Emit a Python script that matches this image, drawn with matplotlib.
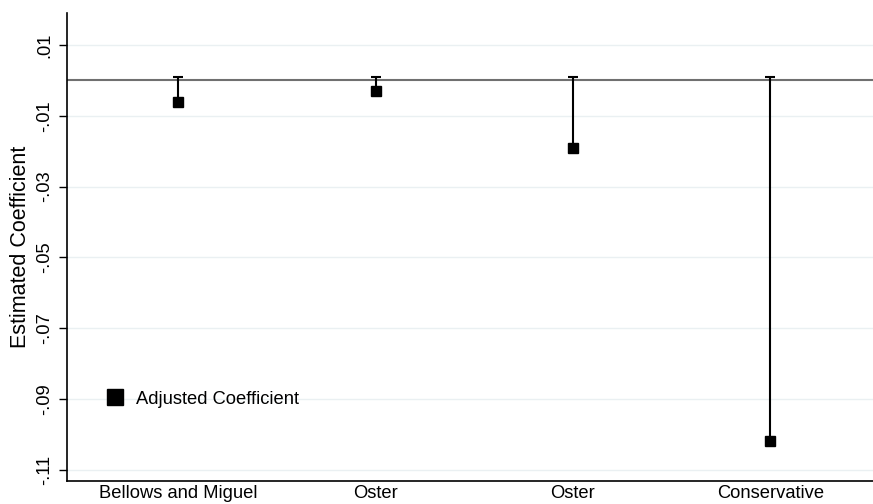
import matplotlib
matplotlib.use("Agg")
import matplotlib.pyplot as plt
from matplotlib.lines import Line2D

plt.rcParams['font.family'] = ['Liberation Sans', 'DejaVu Sans']

categories = ["Bellows and Miguel", "Oster", "Oster", "Conservative"]
coef = [-0.006, -0.003, -0.019, -0.1017]
upper = [0.001, 0.001, 0.001, 0.001]
yticks = [0.01, -0.01, -0.03, -0.05, -0.07, -0.09, -0.11]
ytick_labels = [".01", "-.01", "-.03", "-.05", "-.07", "-.09", "-.11"]

fig = plt.figure(figsize=(8.73, 5.04), dpi=100)
ax = fig.add_axes([67/873, 1 - 481/504, 1 - 67/873, (481 - 13)/504])

x = list(range(1, len(categories) + 1))
ax.set_xlim(0.437, 4.52)
ax.set_ylim(-0.1131, 0.019)

for t in yticks:
    ax.axhline(t, color='#eaf0f2', lw=1.0, zorder=0)
ax.axhline(0, color='#707070', lw=1.5, zorder=1)

ax.vlines(x, coef, upper, color='black', lw=1.5, zorder=2)
ax.plot(x, upper, linestyle='none', marker='_', ms=7.5, mew=1.5, color='black', zorder=2)
ax.plot(x, coef, linestyle='none', marker='s', ms=7.5, color='black', zorder=3)

ax.set_yticks(yticks)
ax.set_yticklabels(ytick_labels, rotation=90, va='center', fontsize=13.2)
ax.set_xticks(x)
ax.set_xticklabels(categories, fontsize=13.2)
ax.tick_params(axis='x', length=0, pad=3)
ax.tick_params(axis='y', length=6, width=1, pad=4)
ax.set_ylabel("Estimated Coefficient", fontsize=15.5, labelpad=4)

for s in ['top', 'right']:
    ax.spines[s].set_visible(False)
for s in ['left', 'bottom']:
    ax.spines[s].set_linewidth(1.2)

handle = Line2D([], [], linestyle='none', marker='s', ms=11, color='black')
ax.legend([handle], ["Adjusted Coefficient"], loc='center left',
          bbox_to_anchor=(0.028, (-0.09 + 0.1131) / (0.019 + 0.1131)),
          frameon=False, fontsize=13.2, handletextpad=0.15, borderaxespad=0)

fig.savefig("out.png", dpi=100)
